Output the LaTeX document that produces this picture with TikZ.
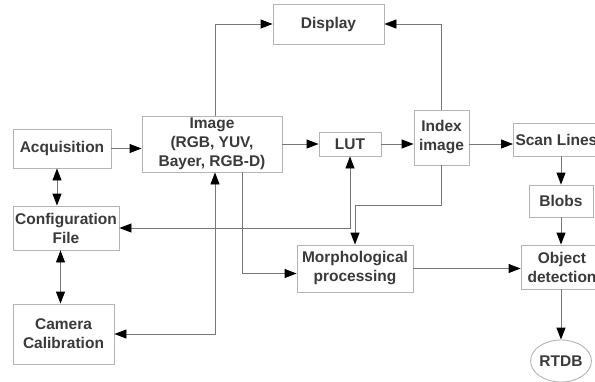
\documentclass[tikz,border=0pt]{standalone}
\usepackage{fontspec}
\setmainfont{Liberation Sans}
\usetikzlibrary{arrows.meta,shapes.geometric}
\begin{document}
\begin{tikzpicture}[x=1pt,y=-1pt]
\definecolor{boxgray}{HTML}{B4B4B4}
\definecolor{linegray}{HTML}{777777}
\definecolor{textgray}{HTML}{3A3A3A}
\tikzset{
  block/.style={draw=boxgray, line width=0.9pt, fill=white, text=textgray, align=center, inner sep=0pt,
    font=\fontsize{15.5}{19}\selectfont\bfseries},
  flow/.style={draw=linegray, line width=0.9pt, -{Triangle[length=12pt,width=9pt,color=black]}},
  both/.style={flow, {Triangle[length=12pt,width=9pt,color=black]}-{Triangle[length=12pt,width=9pt,color=black]}}
}
\useasboundingbox (0,0) rectangle (595,381);
\fill[white] (0,0) rectangle (595,381);
% blocks
\node[block, minimum width=98, minimum height=39] (acq) at (62,148.5) {Acquisition};
\node[block, minimum width=140, minimum height=56] (img) at (212,144) {Image\\(RGB, YUV,\\Bayer, RGB-D)};
\node[block, minimum width=106, minimum height=44] (conf) at (66,228) {Configuration\\File};
\node[block, minimum width=101, minimum height=60] (cam) at (63.5,334) {Camera\\Calibration};
\node[block, minimum width=111, minimum height=40] (disp) at (328.5,24) {Display};
\node[block, minimum width=62, minimum height=24] (lut) at (350,144) {LUT};
\node[block, minimum width=55, minimum height=55] (idx) at (441.5,137.5) {Index\\image};
\node[block, minimum width=100, minimum height=33, anchor=west] (scan) at (513,139.5) {\hspace*{-14pt}Scan Lines};
\node[block, minimum width=64, minimum height=32] (blobs) at (561,201) {Blobs};
\node[block, minimum width=116, minimum height=47] (morph) at (355,268.5) {Morphological\\processing};
\node[block, minimum width=82, minimum height=44] (obj) at (562,267) {Object\\detection};
\node[block, ellipse, minimum width=60, minimum height=42] (rtdb) at (561,361) {RTDB};
% connectors
\draw[flow] (acq.east) -- (acq.east -| img.west);
\draw[both] ([xshift=-5]acq.south) -- ([xshift=-5]acq.south |- conf.north);
\draw[both] ([xshift=-3]cam.north |- conf.south) -- ([xshift=-3]cam.north);
\draw[flow] ([xshift=3]img.north) |- (disp.west);
\draw[flow] (img.east) -- (lut.west);
\draw[flow] (lut.east) -- (lut.east -| idx.west);
\draw[flow] (idx.north) |- (disp.east);
\draw[flow] (lut.east -| idx.east) -- (lut.east -| scan.west);
\draw[flow] (blobs |- scan.south) -- (blobs.north);
\draw[flow] (blobs.south) -- (blobs.south |- obj.north);
\draw[flow] (rtdb |- obj.south) -- (rtdb.north);
\draw[flow] (morph.east) -- (morph.east -| obj.west);
\draw[flow] (idx.south) -- ++(0,40) -| (morph.north);
\draw[both] (conf.east) -| (lut.south);
\draw[both] (cam.east) -| ([xshift=3]img.south);
\draw[flow] ([xshift=30]img.south) |- ([yshift=-5]morph.west);
\end{tikzpicture}
\end{document}
